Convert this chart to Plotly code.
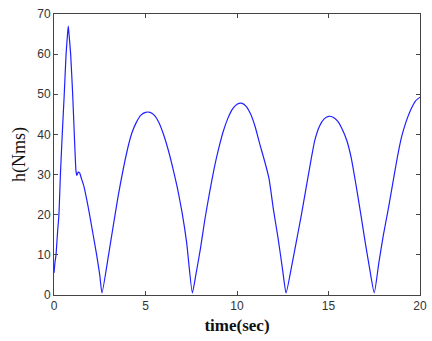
import plotly.graph_objects as go

# Time samples (s) and angular momentum magnitude h (Nms)
time_s = [0.0, 0.05, 0.11, 0.2, 0.27, 0.35, 0.45, 0.56, 0.66, 0.74, 0.78, 0.82, 0.91, 1.02, 1.11, 1.2,
          1.25, 1.32, 1.4, 1.5, 1.64, 1.8, 1.93, 2.1, 2.33, 2.5, 2.62,
          3.0, 3.5, 4.0, 4.25, 4.5, 4.75, 5.0, 5.25, 5.5, 5.75, 6.0, 6.25, 6.5, 6.75, 7.0, 7.25, 7.56,
          7.75, 8.0, 8.25, 8.5, 8.75, 9.0, 9.25, 9.5, 9.75, 10.0, 10.25, 10.5, 10.75, 11.0, 11.25,
          11.5, 11.75, 12.0, 12.25, 12.5, 12.68,
          13.0, 13.25, 13.5, 13.75, 14.0, 14.25, 14.5, 14.75, 15.0, 15.25, 15.5, 15.75, 16.0, 16.25,
          16.5, 16.75, 17.0, 17.25, 17.5,
          17.75, 18.0, 18.25, 18.5, 18.75, 19.0, 19.25, 19.5, 19.75, 20.0]
h_nms = [5.5, 8.0, 10.0, 16.0, 20.0, 30.0, 40.0, 50.0, 60.0, 65.0, 67.0, 65.0, 60.0, 50.0, 40.0, 31.0,
         29.8, 30.6, 30.4, 29.0, 27.0, 23.5, 20.4, 16.0, 10.0, 5.0, 0.5,
         10.5, 24.5, 36.0, 40.3, 43.0, 44.8, 45.5, 45.5, 44.7, 42.8, 39.8, 36.0, 31.5, 26.5, 20.5, 13.0, 0.5,
         5.0, 11.5, 19.0, 25.5, 31.5, 36.5, 40.8, 44.0, 46.3, 47.5, 47.8, 47.0, 45.0, 41.8, 37.5,
         33.5, 29.0, 21.0, 14.0, 6.0, 0.5,
         7.5, 13.5, 19.5, 26.0, 32.5, 38.5, 42.0, 43.8, 44.5, 44.3, 43.3, 41.3, 38.5, 34.0,
         27.5, 20.5, 13.3, 6.5, 0.5,
         8.0, 15.0, 21.0, 27.5, 34.0, 39.5, 43.3, 46.2, 48.3, 49.3]

x_ticks = [0, 5, 10, 15, 20]
y_ticks = [0, 10, 20, 30, 40, 50, 60, 70]

fig = go.Figure()
fig.add_trace(go.Scatter(x=time_s, y=h_nms, mode="lines", line_shape="spline",
                         line=dict(color="#2020ff", width=1.2, smoothing=0.5), showlegend=False))

axis_common = dict(showline=True, linecolor="#444444", linewidth=1, mirror="allticks",
                   ticks="inside", ticklen=4, tickcolor="#444444", showgrid=False,
                   zeroline=False, automargin=False,
                   tickfont=dict(family="Liberation Sans, Arial", size=12, color="#333333"))

fig.update_xaxes(range=[0, 20], tickvals=x_ticks, **axis_common,
                 title=dict(text="<b>time(sec)</b>", standoff=6,
                            font=dict(family="Liberation Serif, Times New Roman", size=17, color="#111111")))
fig.update_yaxes(range=[0, 70], tickvals=y_ticks, **axis_common,
                 title=dict(text="h(Nms)", standoff=6,
                            font=dict(family="Liberation Serif, Times New Roman", size=18, color="#111111")))

fig.update_layout(width=432, height=341, margin=dict(l=54, r=12, t=14, b=46),
                  paper_bgcolor="white", plot_bgcolor="white")

# remove the page's default body margin so the 432x341 figure fills the window exactly
fig.write_html("out.html", config={"displayModeBar": False},
               post_script="document.body.style.margin='0';document.body.style.overflow='hidden';")
